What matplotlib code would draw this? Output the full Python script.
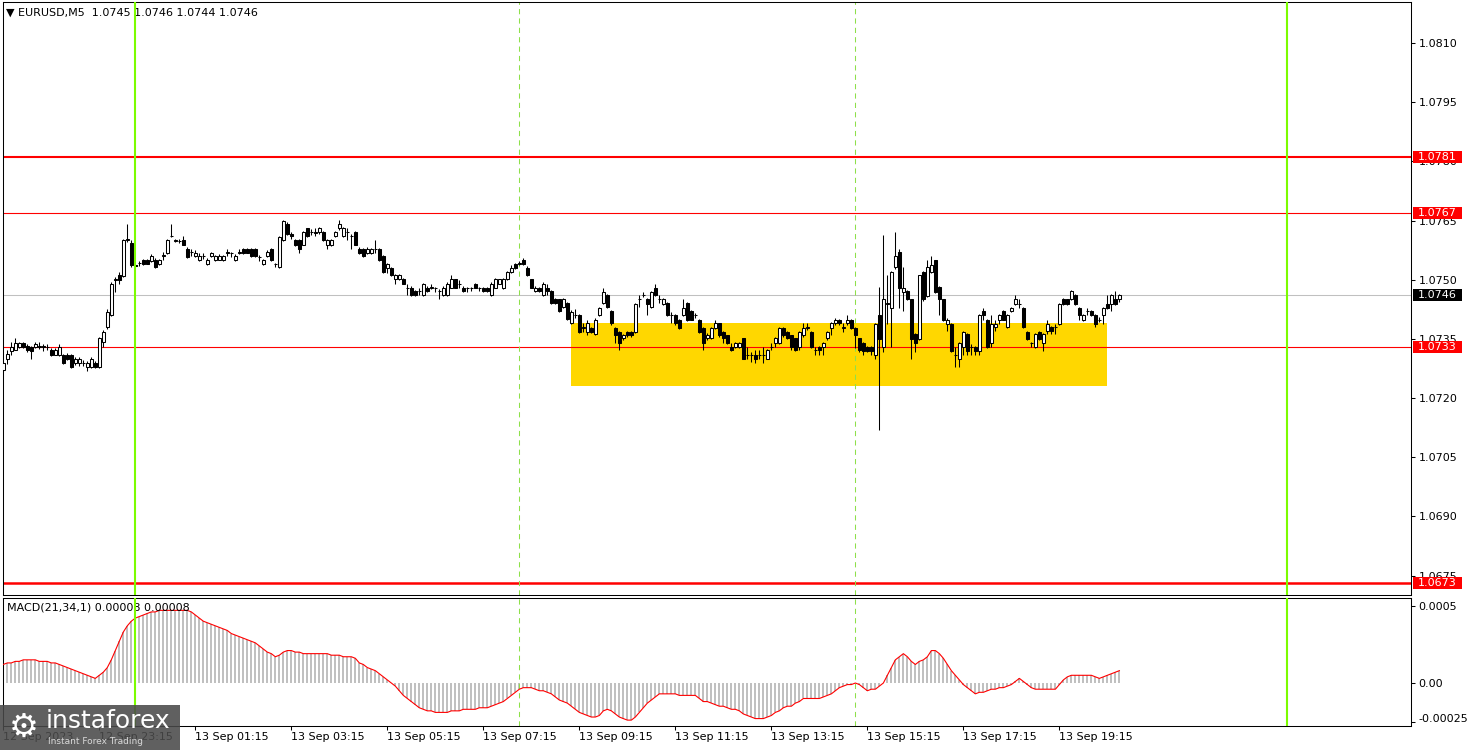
import matplotlib
matplotlib.use("Agg")
import matplotlib.pyplot as plt
import matplotlib.transforms as mtransforms
from matplotlib.patches import Rectangle
import numpy as np
import pandas as pd

plt.rcParams['font.family'] = ['DejaVu Sans']
plt.rcParams['font.size'] = 8

symbol = 'EURUSD,M5'
first_bar = '2023-09-12 21:15'

# 5-minute candles
opens = [
    1.07271, 1.07300, 1.07320, 1.07321, 1.07330, 1.07340, 1.07332, 1.07330, 1.07330, 1.07330,
    1.07331, 1.07330, 1.07323, 1.07310, 1.07310, 1.07310, 1.07310, 1.07310, 1.07289, 1.07289,
    1.07289, 1.07279, 1.07279, 1.07289, 1.07279, 1.07342, 1.07379, 1.07410, 1.07499, 1.07512,
    1.07509, 1.07600, 1.07592, 1.07537, 1.07542, 1.07550, 1.07550, 1.07548, 1.07550, 1.07540,
    1.07561, 1.07568, 1.07610, 1.07599, 1.07599, 1.07600, 1.07579, 1.07571, 1.07560, 1.07550,
    1.07560, 1.07540, 1.07560, 1.07550, 1.07550, 1.07550, 1.07568, 1.07568, 1.07550, 1.07568,
    1.07579, 1.07579, 1.07579, 1.07579, 1.07558, 1.07540, 1.07560, 1.07579, 1.07541, 1.07531,
    1.07600, 1.07641, 1.07617, 1.07600, 1.07600, 1.07589, 1.07630, 1.07620, 1.07620, 1.07620,
    1.07620, 1.07589, 1.07589, 1.07611, 1.07630, 1.07611, 1.07620, 1.07611, 1.07620, 1.07579,
    1.07579, 1.07568, 1.07568, 1.07579, 1.07579, 1.07560, 1.07530, 1.07530, 1.07501, 1.07501,
    1.07501, 1.07480, 1.07480, 1.07472, 1.07472, 1.07461, 1.07480, 1.07480, 1.07480, 1.07472,
    1.07461, 1.07461, 1.07480, 1.07501, 1.07490, 1.07480, 1.07480, 1.07480, 1.07490, 1.07480,
    1.07480, 1.07480, 1.07461, 1.07480, 1.07490, 1.07480, 1.07501, 1.07520, 1.07539, 1.07541,
    1.07550, 1.07530, 1.07501, 1.07472, 1.07480, 1.07461, 1.07480, 1.07472, 1.07450, 1.07450,
    1.07431, 1.07441, 1.07389, 1.07410, 1.07410, 1.07378, 1.07367, 1.07378, 1.07362, 1.07410,
    1.07441, 1.07461, 1.07421, 1.07378, 1.07367, 1.07351, 1.07367, 1.07367, 1.07367, 1.07450,
    1.07461, 1.07450, 1.07431, 1.07480, 1.07450, 1.07439, 1.07441, 1.07410, 1.07410, 1.07399,
    1.07410, 1.07441, 1.07421, 1.07410, 1.07399, 1.07378, 1.07351, 1.07351, 1.07378, 1.07389,
    1.07367, 1.07359, 1.07329, 1.07329, 1.07329, 1.07351, 1.07308, 1.07308, 1.07308, 1.07308,
    1.07309, 1.07300, 1.07329, 1.07340, 1.07340, 1.07378, 1.07367, 1.07359, 1.07351, 1.07329,
    1.07359, 1.07378, 1.07367, 1.07321, 1.07329, 1.07329, 1.07351, 1.07378, 1.07389, 1.07399,
    1.07378, 1.07389, 1.07399, 1.07378, 1.07351, 1.07339, 1.07329, 1.07329, 1.07308, 1.07410,
    1.07329, 1.07439, 1.07429, 1.07531, 1.07569, 1.07469, 1.07471, 1.07450, 1.07362, 1.07350,
    1.07520, 1.07458, 1.07520, 1.07549, 1.07482, 1.07450, 1.07388, 1.07388, 1.07310, 1.07300,
    1.07329, 1.07362, 1.07329, 1.07329, 1.07319, 1.07421, 1.07399, 1.07339, 1.07380, 1.07399,
    1.07421, 1.07380, 1.07421, 1.07439, 1.07439, 1.07429, 1.07367, 1.07339, 1.07329, 1.07367,
    1.07339, 1.07370, 1.07380, 1.07380, 1.07388, 1.07450, 1.07450, 1.07450, 1.07460, 1.07429,
    1.07399, 1.07421, 1.07421, 1.07410, 1.07399, 1.07410, 1.07439, 1.07439, 1.07450, 1.07450,
]
highs = [
    1.07292, 1.07321, 1.07342, 1.07353, 1.07342, 1.07342, 1.07338, 1.07332, 1.07342, 1.07342,
    1.07338, 1.07337, 1.07328, 1.07326, 1.07336, 1.07312, 1.07313, 1.07312, 1.07304, 1.07303,
    1.07296, 1.07293, 1.07305, 1.07293, 1.07355, 1.07373, 1.07425, 1.07494, 1.07508, 1.07520,
    1.07604, 1.07641, 1.07600, 1.07540, 1.07548, 1.07553, 1.07552, 1.07564, 1.07554, 1.07553,
    1.07571, 1.07603, 1.07641, 1.07603, 1.07604, 1.07610, 1.07582, 1.07579, 1.07575, 1.07568,
    1.07568, 1.07554, 1.07571, 1.07563, 1.07565, 1.07562, 1.07579, 1.07570, 1.07564, 1.07579,
    1.07580, 1.07580, 1.07580, 1.07581, 1.07562, 1.07553, 1.07576, 1.07580, 1.07543, 1.07611,
    1.07651, 1.07645, 1.07620, 1.07603, 1.07602, 1.07623, 1.07632, 1.07628, 1.07630, 1.07634,
    1.07623, 1.07603, 1.07604, 1.07624, 1.07651, 1.07634, 1.07630, 1.07616, 1.07623, 1.07582,
    1.07581, 1.07582, 1.07581, 1.07600, 1.07581, 1.07562, 1.07542, 1.07533, 1.07515, 1.07514,
    1.07504, 1.07490, 1.07483, 1.07475, 1.07480, 1.07492, 1.07483, 1.07490, 1.07482, 1.07476,
    1.07484, 1.07493, 1.07512, 1.07503, 1.07500, 1.07483, 1.07482, 1.07481, 1.07492, 1.07482,
    1.07482, 1.07481, 1.07493, 1.07504, 1.07503, 1.07505, 1.07523, 1.07536, 1.07542, 1.07548,
    1.07554, 1.07534, 1.07503, 1.07484, 1.07482, 1.07493, 1.07490, 1.07474, 1.07453, 1.07452,
    1.07453, 1.07443, 1.07424, 1.07427, 1.07412, 1.07389, 1.07399, 1.07381, 1.07402, 1.07432,
    1.07480, 1.07464, 1.07423, 1.07380, 1.07370, 1.07363, 1.07370, 1.07370, 1.07442, 1.07461,
    1.07470, 1.07453, 1.07472, 1.07490, 1.07461, 1.07453, 1.07443, 1.07418, 1.07412, 1.07401,
    1.07450, 1.07443, 1.07423, 1.07416, 1.07401, 1.07380, 1.07364, 1.07380, 1.07399, 1.07391,
    1.07370, 1.07361, 1.07340, 1.07343, 1.07342, 1.07353, 1.07329, 1.07317, 1.07321, 1.07321,
    1.07329, 1.07324, 1.07340, 1.07354, 1.07380, 1.07381, 1.07370, 1.07361, 1.07353, 1.07370,
    1.07389, 1.07389, 1.07370, 1.07329, 1.07332, 1.07343, 1.07370, 1.07392, 1.07402, 1.07401,
    1.07389, 1.07410, 1.07401, 1.07380, 1.07353, 1.07342, 1.07332, 1.07331, 1.07391, 1.07482,
    1.07613, 1.07511, 1.07523, 1.07621, 1.07579, 1.07531, 1.07474, 1.07452, 1.07365, 1.07513,
    1.07522, 1.07549, 1.07559, 1.07551, 1.07484, 1.07452, 1.07402, 1.07390, 1.07329, 1.07342,
    1.07370, 1.07365, 1.07336, 1.07332, 1.07413, 1.07429, 1.07401, 1.07410, 1.07399, 1.07413,
    1.07423, 1.07413, 1.07432, 1.07460, 1.07450, 1.07431, 1.07370, 1.07343, 1.07365, 1.07370,
    1.07365, 1.07399, 1.07383, 1.07388, 1.07442, 1.07453, 1.07452, 1.07474, 1.07463, 1.07432,
    1.07413, 1.07429, 1.07424, 1.07412, 1.07405, 1.07432, 1.07460, 1.07463, 1.07471, 1.07463,
]
lows = [
    1.07269, 1.07287, 1.07309, 1.07321, 1.07328, 1.07328, 1.07318, 1.07300, 1.07326, 1.07324,
    1.07320, 1.07323, 1.07306, 1.07308, 1.07307, 1.07286, 1.07296, 1.07276, 1.07285, 1.07282,
    1.07280, 1.07269, 1.07276, 1.07277, 1.07276, 1.07330, 1.07375, 1.07408, 1.07469, 1.07490,
    1.07506, 1.07595, 1.07533, 1.07529, 1.07535, 1.07538, 1.07539, 1.07545, 1.07530, 1.07538,
    1.07551, 1.07565, 1.07608, 1.07595, 1.07592, 1.07587, 1.07554, 1.07560, 1.07557, 1.07548,
    1.07553, 1.07538, 1.07557, 1.07548, 1.07549, 1.07548, 1.07560, 1.07558, 1.07547, 1.07565,
    1.07566, 1.07567, 1.07558, 1.07558, 1.07548, 1.07536, 1.07558, 1.07547, 1.07533, 1.07529,
    1.07598, 1.07614, 1.07602, 1.07586, 1.07568, 1.07587, 1.07609, 1.07613, 1.07611, 1.07617,
    1.07598, 1.07579, 1.07586, 1.07608, 1.07627, 1.07608, 1.07600, 1.07579, 1.07587, 1.07565,
    1.07558, 1.07565, 1.07566, 1.07568, 1.07548, 1.07518, 1.07518, 1.07510, 1.07490, 1.07499,
    1.07488, 1.07461, 1.07459, 1.07459, 1.07461, 1.07459, 1.07470, 1.07476, 1.07470, 1.07450,
    1.07459, 1.07458, 1.07478, 1.07478, 1.07480, 1.07470, 1.07470, 1.07471, 1.07478, 1.07472,
    1.07470, 1.07470, 1.07459, 1.07478, 1.07488, 1.07477, 1.07499, 1.07517, 1.07528, 1.07538,
    1.07536, 1.07510, 1.07478, 1.07470, 1.07469, 1.07459, 1.07461, 1.07439, 1.07439, 1.07419,
    1.07428, 1.07398, 1.07388, 1.07402, 1.07365, 1.07367, 1.07359, 1.07364, 1.07359, 1.07407,
    1.07438, 1.07429, 1.07386, 1.07340, 1.07321, 1.07348, 1.07356, 1.07355, 1.07364, 1.07431,
    1.07455, 1.07410, 1.07428, 1.07458, 1.07441, 1.07436, 1.07408, 1.07389, 1.07386, 1.07375,
    1.07407, 1.07396, 1.07397, 1.07402, 1.07364, 1.07321, 1.07348, 1.07349, 1.07376, 1.07356,
    1.07340, 1.07338, 1.07319, 1.07326, 1.07327, 1.07298, 1.07300, 1.07291, 1.07289, 1.07300,
    1.07289, 1.07298, 1.07321, 1.07330, 1.07338, 1.07356, 1.07349, 1.07321, 1.07319, 1.07321,
    1.07356, 1.07373, 1.07327, 1.07308, 1.07308, 1.07308, 1.07348, 1.07359, 1.07386, 1.07386,
    1.07367, 1.07386, 1.07376, 1.07328, 1.07317, 1.07308, 1.07316, 1.07308, 1.07300, 1.07118,
    1.07317, 1.07388, 1.07329, 1.07528, 1.07429, 1.07421, 1.07448, 1.07300, 1.07317, 1.07347,
    1.07447, 1.07455, 1.07518, 1.07466, 1.07410, 1.07396, 1.07370, 1.07316, 1.07279, 1.07279,
    1.07310, 1.07310, 1.07310, 1.07310, 1.07310, 1.07399, 1.07326, 1.07329, 1.07370, 1.07388,
    1.07397, 1.07378, 1.07418, 1.07436, 1.07429, 1.07378, 1.07348, 1.07329, 1.07327, 1.07348,
    1.07319, 1.07362, 1.07362, 1.07362, 1.07385, 1.07436, 1.07437, 1.07448, 1.07436, 1.07399,
    1.07396, 1.07410, 1.07407, 1.07380, 1.07393, 1.07388, 1.07426, 1.07421, 1.07436, 1.07444,
]
closes = [
    1.07290, 1.07311, 1.07330, 1.07340, 1.07340, 1.07330, 1.07321, 1.07320, 1.07337, 1.07331,
    1.07330, 1.07329, 1.07309, 1.07321, 1.07330, 1.07289, 1.07300, 1.07279, 1.07300, 1.07300,
    1.07290, 1.07289, 1.07300, 1.07279, 1.07351, 1.07368, 1.07419, 1.07490, 1.07503, 1.07499,
    1.07600, 1.07602, 1.07537, 1.07535, 1.07543, 1.07540, 1.07540, 1.07560, 1.07531, 1.07550,
    1.07562, 1.07600, 1.07611, 1.07600, 1.07599, 1.07589, 1.07558, 1.07570, 1.07568, 1.07560,
    1.07560, 1.07550, 1.07568, 1.07560, 1.07560, 1.07560, 1.07569, 1.07568, 1.07560, 1.07569,
    1.07568, 1.07568, 1.07560, 1.07560, 1.07557, 1.07550, 1.07571, 1.07550, 1.07540, 1.07609,
    1.07649, 1.07617, 1.07611, 1.07589, 1.07579, 1.07620, 1.07611, 1.07620, 1.07619, 1.07630,
    1.07600, 1.07600, 1.07600, 1.07620, 1.07641, 1.07630, 1.07620, 1.07610, 1.07589, 1.07568,
    1.07560, 1.07579, 1.07579, 1.07578, 1.07550, 1.07520, 1.07539, 1.07512, 1.07512, 1.07512,
    1.07490, 1.07480, 1.07461, 1.07461, 1.07471, 1.07490, 1.07472, 1.07481, 1.07480, 1.07472,
    1.07480, 1.07490, 1.07501, 1.07480, 1.07490, 1.07472, 1.07480, 1.07480, 1.07480, 1.07480,
    1.07472, 1.07472, 1.07490, 1.07501, 1.07501, 1.07501, 1.07520, 1.07530, 1.07530, 1.07542,
    1.07539, 1.07512, 1.07480, 1.07480, 1.07472, 1.07490, 1.07472, 1.07441, 1.07441, 1.07421,
    1.07450, 1.07400, 1.07418, 1.07411, 1.07368, 1.07379, 1.07389, 1.07367, 1.07399, 1.07429,
    1.07469, 1.07431, 1.07389, 1.07359, 1.07340, 1.07359, 1.07359, 1.07359, 1.07439, 1.07451,
    1.07462, 1.07439, 1.07469, 1.07461, 1.07450, 1.07450, 1.07410, 1.07410, 1.07389, 1.07378,
    1.07429, 1.07399, 1.07399, 1.07410, 1.07367, 1.07340, 1.07361, 1.07378, 1.07389, 1.07359,
    1.07351, 1.07340, 1.07321, 1.07340, 1.07340, 1.07300, 1.07309, 1.07308, 1.07300, 1.07309,
    1.07308, 1.07321, 1.07330, 1.07351, 1.07378, 1.07359, 1.07351, 1.07329, 1.07321, 1.07367,
    1.07378, 1.07379, 1.07329, 1.07321, 1.07321, 1.07340, 1.07367, 1.07389, 1.07399, 1.07389,
    1.07379, 1.07399, 1.07378, 1.07359, 1.07321, 1.07319, 1.07319, 1.07319, 1.07388, 1.07350,
    1.07450, 1.07440, 1.07520, 1.07559, 1.07479, 1.07479, 1.07450, 1.07350, 1.07339, 1.07511,
    1.07450, 1.07531, 1.07538, 1.07469, 1.07450, 1.07399, 1.07399, 1.07319, 1.07310, 1.07339,
    1.07367, 1.07319, 1.07330, 1.07319, 1.07410, 1.07410, 1.07329, 1.07388, 1.07388, 1.07410,
    1.07399, 1.07410, 1.07429, 1.07450, 1.07439, 1.07380, 1.07350, 1.07339, 1.07362, 1.07350,
    1.07362, 1.07388, 1.07370, 1.07380, 1.07439, 1.07439, 1.07439, 1.07471, 1.07439, 1.07410,
    1.07410, 1.07421, 1.07410, 1.07388, 1.07399, 1.07429, 1.07429, 1.07460, 1.07439, 1.07460,
]
# MACD(21,34,1) main value per bar
macd = [
    0.00012, 0.00013, 0.00013, 0.00014, 0.00014, 0.00015, 0.00015, 0.00015, 0.00015, 0.00014,
    0.00014, 0.00014, 0.00013, 0.00013, 0.00012, 0.00011, 0.00010, 0.00009, 0.00008, 0.00007,
    0.00006, 0.00005, 0.00004, 0.00003, 0.00005, 0.00007, 0.00010, 0.00015, 0.00021, 0.00027,
    0.00033, 0.00037, 0.00040, 0.00042, 0.00043, 0.00044, 0.00045, 0.00046, 0.00046, 0.00047,
    0.00047, 0.00047, 0.00047, 0.00047, 0.00047, 0.00047, 0.00047, 0.00046, 0.00044, 0.00042,
    0.00040, 0.00039, 0.00038, 0.00037, 0.00036, 0.00035, 0.00034, 0.00032, 0.00031, 0.00030,
    0.00029, 0.00028, 0.00027, 0.00026, 0.00024, 0.00022, 0.00020, 0.00019, 0.00017, 0.00018,
    0.00020, 0.00021, 0.00021, 0.00020, 0.00020, 0.00019, 0.00019, 0.00019, 0.00019, 0.00019,
    0.00019, 0.00019, 0.00018, 0.00018, 0.00018, 0.00017, 0.00017, 0.00017, 0.00016, 0.00013,
    0.00012, 0.00010, 0.00009, 0.00008, 0.00006, 0.00004, 0.00002, 0.00000, -0.00002, -0.00005,
    -0.00008, -0.00010, -0.00012, -0.00014, -0.00016, -0.00017, -0.00018, -0.00018, -0.00019, -0.00019,
    -0.00019, -0.00019, -0.00018, -0.00018, -0.00018, -0.00017, -0.00017, -0.00017, -0.00017, -0.00016,
    -0.00016, -0.00016, -0.00015, -0.00014, -0.00013, -0.00012, -0.00010, -0.00008, -0.00006, -0.00004,
    -0.00003, -0.00003, -0.00003, -0.00004, -0.00005, -0.00005, -0.00006, -0.00007, -0.00009, -0.00011,
    -0.00012, -0.00013, -0.00015, -0.00017, -0.00019, -0.00020, -0.00021, -0.00022, -0.00022, -0.00021,
    -0.00018, -0.00017, -0.00018, -0.00020, -0.00022, -0.00023, -0.00024, -0.00024, -0.00022, -0.00019,
    -0.00016, -0.00013, -0.00011, -0.00009, -0.00007, -0.00007, -0.00007, -0.00007, -0.00007, -0.00008,
    -0.00008, -0.00008, -0.00008, -0.00008, -0.00010, -0.00012, -0.00012, -0.00013, -0.00014, -0.00015,
    -0.00015, -0.00016, -0.00017, -0.00017, -0.00018, -0.00020, -0.00021, -0.00022, -0.00023, -0.00023,
    -0.00023, -0.00022, -0.00021, -0.00019, -0.00018, -0.00016, -0.00015, -0.00015, -0.00013, -0.00012,
    -0.00010, -0.00010, -0.00010, -0.00010, -0.00010, -0.00009, -0.00008, -0.00007, -0.00005, -0.00003,
    -0.00002, -0.00001, -0.00001, 0.00000, -0.00001, -0.00003, -0.00005, -0.00004, -0.00004, -0.00002,
    0.00000, 0.00005, 0.00010, 0.00015, 0.00017, 0.00019, 0.00017, 0.00014, 0.00012, 0.00014,
    0.00015, 0.00017, 0.00021, 0.00021, 0.00019, 0.00016, 0.00012, 0.00008, 0.00005, 0.00002,
    -0.00001, -0.00003, -0.00005, -0.00007, -0.00006, -0.00006, -0.00005, -0.00004, -0.00004, -0.00003,
    -0.00003, -0.00002, -0.00001, 0.00001, 0.00003, 0.00001, -0.00001, -0.00003, -0.00004, -0.00004,
    -0.00004, -0.00004, -0.00004, -0.00004, -0.00001, 0.00002, 0.00004, 0.00005, 0.00005, 0.00005,
    0.00005, 0.00005, 0.00005, 0.00004, 0.00003, 0.00004, 0.00005, 0.00006, 0.00007, 0.00008,
]

bid_price = 1.0746
levels = [1.0781, 1.0767, 1.0733, 1.0673]
level_widths = [1.5, 0.8, 0.8, 1.8]
zone_low, zone_high = 1.0723, 1.0739
zone_from, zone_to = '2023-09-13 09:05', '2023-09-13 20:15'
day_lines = ['2023-09-13 00:00', '2023-09-14 00:00']
session_lines = ['2023-09-13 08:00', '2023-09-13 15:00']
price_ticks = [1.0675, 1.0690, 1.0705, 1.0720, 1.0735, 1.0750, 1.0765, 1.0780, 1.0795, 1.0810]
macd_ticks = [0.0005, 0.0, -0.00025]
macd_tick_labels = ['0.0005', '0.00', '-0.00025']

n = len(closes)
t0 = pd.Timestamp(first_bar)
times = pd.date_range(t0, periods=n, freq='5min')


def bar_of(ts):
    return (pd.Timestamp(ts) - t0) / pd.Timedelta('5min')


W, H = 1468, 750
fig = plt.figure(figsize=(W / 100, H / 100), dpi=100)


def px_axes(x0, y0, x1, y1):
    return fig.add_axes([x0 / W, 1 - y1 / H, (x1 - x0) / W, (y1 - y0) / H])


ax = px_axes(3, 2, 1411, 595)
axm = px_axes(3, 598, 1411, 726)

x = np.arange(n)
o, h, l, c = map(np.array, (opens, highs, lows, closes))
bull = c >= o

# candles
ax.vlines(x, l, h, color='black', lw=0.75, zorder=3)
ax.bar(x, np.abs(c - o), bottom=np.minimum(o, c), width=0.65,
       color=np.where(bull, 'white', 'black'), edgecolor='black', lw=0.75, zorder=4)

# yellow zone
z0, z1 = bar_of(zone_from), bar_of(zone_to)
ax.add_patch(Rectangle((z0, zone_low), z1 - z0, zone_high - zone_low,
                       facecolor='#FFD700', edgecolor='none', zorder=1))

# levels and bid line
for lv, lw in zip(levels, level_widths):
    ax.axhline(lv, color='#ff0000', lw=lw, zorder=2)
ax.axhline(bid_price, color='#c0c0c0', lw=0.75, zorder=2)

# vertical separators in both panels
for a in (ax, axm):
    for d in day_lines:
        a.axvline(bar_of(d), color='#7cfc00', lw=1.5, zorder=5)
    for s in session_lines:
        a.axvline(bar_of(s), color='#8ee04a', lw=0.75, ls=(0, (5, 4)), zorder=2.5)

ax.set_xlim(-0.075, 351.9)
ax.set_ylim(1.067008, 1.082039)
ax.set_xticks([])
ax.yaxis.tick_right()
ax.set_yticks(price_ticks)
ax.set_yticklabels([f'{p:.4f}' for p in price_ticks])
ax.tick_params(axis='y', direction='out', length=3, width=0.75, pad=2.5, labelsize=8)

# price tags on the scale
ytr = ax.get_yaxis_transform()
tag_h = (1.082039 - 1.067008) * 12 / 593
for price, fc in [(levels[0], '#ff0000'), (levels[1], '#ff0000'), (levels[2], '#ff0000'),
                  (levels[3], '#ff0000'), (bid_price, 'black')]:
    ax.add_patch(Rectangle((1.0014, price - tag_h / 2), 0.0348, tag_h, transform=ytr,
                           facecolor=fc, edgecolor='none', clip_on=False, zorder=6))
    ax.text(1.0050, price, f'{price:.4f}', transform=ytr, color='white', fontsize=8,
            va='center', ha='left', clip_on=False, zorder=7)

header = f'\u25bc {symbol}  {o[-1]:.4f} {h[-1]:.4f} {l[-1]:.4f} {c[-1]:.4f}'
ax.text(3 / 1408, 1 - 11 / 593, header, transform=ax.transAxes, va='center', ha='left', fontsize=8)

# MACD panel
m = np.array(macd)
axm.bar(x, m, width=0.5, color='#c0c0c0', zorder=2)
axm.plot(x, m, color='#ff0000', lw=0.8, zorder=3)
axm.set_xlim(-0.075, 351.9)
axm.set_ylim(-0.000278, 0.00055)
axm.yaxis.tick_right()
axm.set_yticks(macd_ticks)
axm.set_yticklabels(macd_tick_labels)
axm.tick_params(axis='y', direction='out', length=3, width=0.75, pad=2.5, labelsize=8)
# lowest scale label sits a little above its tick, as in the terminal
low_lbl = axm.get_yticklabels()[-1]
low_lbl.set_transform(low_lbl.get_transform() +
                      mtransforms.ScaledTranslation(0, 4 / 100, fig.dpi_scale_trans))
axm.text(4 / 1408, 1 - 9 / 128, f'MACD(21,34,1) {m[-1]:.5f} {m[-1]:.5f}',
         transform=axm.transAxes, va='center', ha='left', fontsize=8)

tick_idx = [i for i, t in enumerate(times) if t.minute == 15 and t.hour % 2 == 1]
tick_lbl = [times[i].strftime('%d %b %Y') if i == 0 else times[i].strftime('%d %b %H:%M') for i in tick_idx]
axm.set_xticks(tick_idx)
axm.set_xticklabels(tick_lbl, ha='left')
axm.tick_params(axis='x', direction='out', length=3, width=0.75, pad=1.5, labelsize=8)

for a in (ax, axm):
    for sp in a.spines.values():
        sp.set_linewidth(0.75)
        sp.set_color('black')

# watermark logo
fig.add_artist(Rectangle((0, 0), 180 / W, 45 / H, transform=fig.transFigure,
                         facecolor='#4a4a4a', edgecolor='none', alpha=0.88, zorder=10))
fig.text(24 / W, 1 - 727 / H, '\u2699', color='white', fontsize=24, ha='center', va='center', zorder=11)
fig.text(46 / W, 1 - 721 / H, 'instaforex', color='white', fontsize=18, ha='left', va='center', zorder=11)
fig.text(48 / W, 1 - 741 / H, 'Instant Forex Trading', color='#d8d8d8', fontsize=6.5,
         ha='left', va='center', zorder=11)

fig.savefig('out.png', dpi=100)
